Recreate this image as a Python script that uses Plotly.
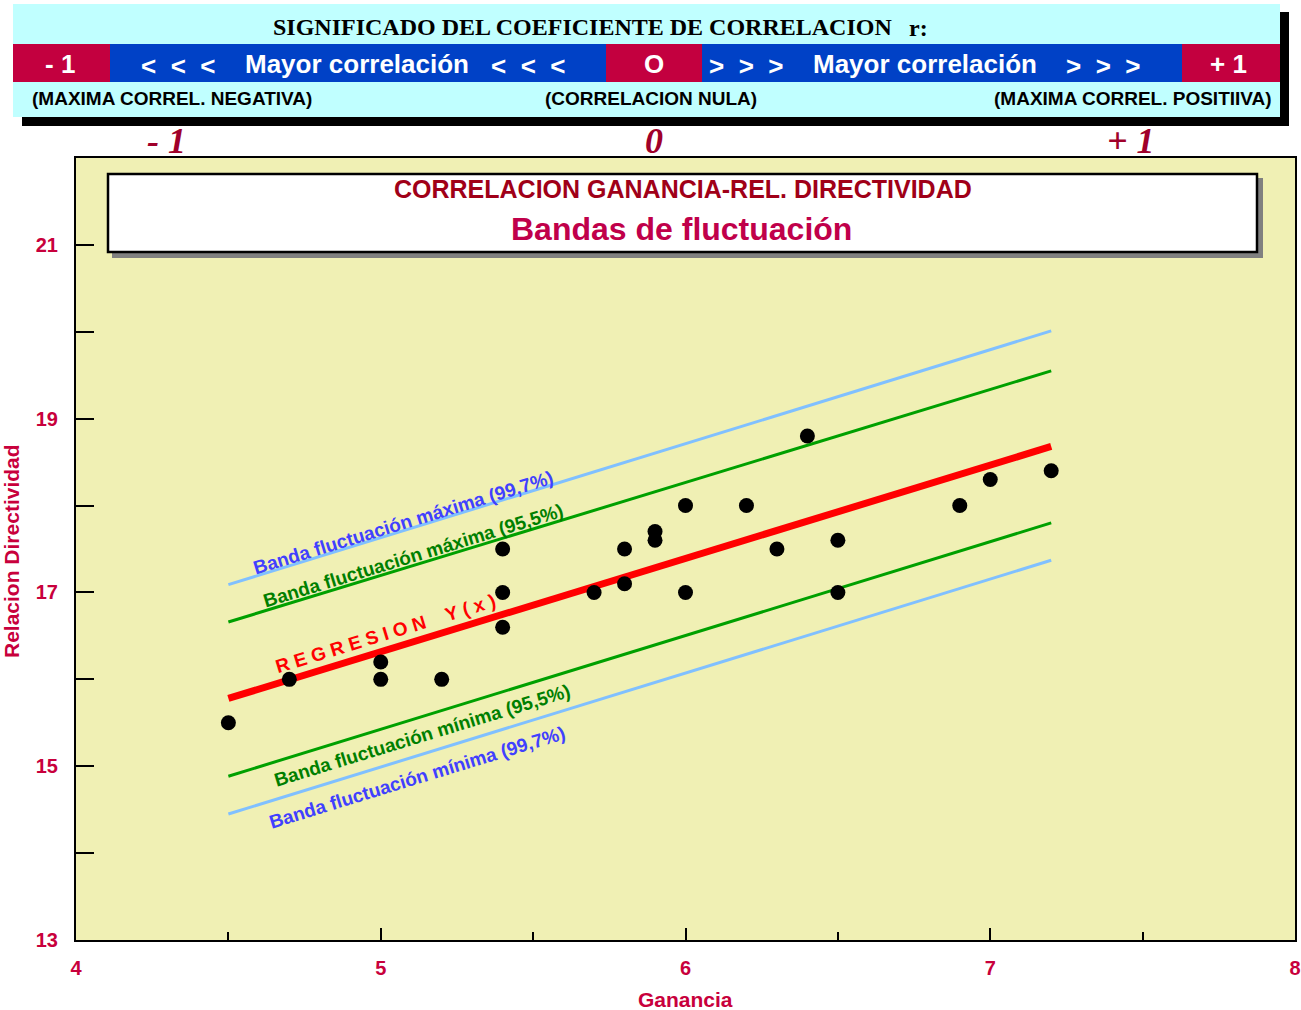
import plotly.graph_objects as go

# ---------------------------------------------------------------------------
# Data: gain vs. directivity ratio, regression line and fluctuation bands
# ---------------------------------------------------------------------------
ganancia = [4.5, 4.7, 5.0, 5.0, 5.2, 5.4, 5.4, 5.4, 5.7, 5.8, 5.8, 5.9,
            5.9, 6.0, 6.0, 6.2, 6.3, 6.4, 6.5, 6.5, 6.9, 7.0, 7.2]
directividad = [15.5, 16.0, 16.2, 16.0, 16.0, 17.5, 17.0, 16.6, 17.0, 17.5,
                17.1, 17.7, 17.6, 18.0, 17.0, 18.0, 17.5, 18.8, 17.6, 17.0,
                18.0, 18.3, 18.4]

# end points (x) of the regression line and the bands
banda_x = [4.5, 7.2]
regresion_y = [15.78, 18.68]
maxima_997 = [17.09, 20.01]
maxima_955 = [16.66, 19.55]
minima_955 = [14.885, 17.80]
minima_997 = [14.45, 17.37]

x_ticks = [4, 5, 6, 7, 8]
y_ticks = [13, 15, 17, 19, 21]

# ---------------------------------------------------------------------------
W, H = 1301, 1010
L, R, T, B = 76, 1295, 158, 940          # plot area in pixels

SANS = "Arial, Liberation Sans, sans-serif"
SERIF = "Times New Roman, Liberation Serif, serif"
CRIMSON = "#C8003C"
RED_CELL = "#C3003F"
BLUE_CELL = "#0041C6"
CYAN = "#C0FFFF"


def fx(p):
    return (p - L) / (R - L)


def fy(p):
    return (B - p) / (B - T)


def rect(x0, y0, x1, y1, fill, line_color=None, line_width=0):
    return dict(type="rect", xref="paper", yref="paper",
                x0=fx(x0), x1=fx(x1), y0=fy(y1), y1=fy(y0),
                fillcolor=fill, layer="above",
                line=dict(color=line_color or fill, width=line_width))


def label(text, x, y, size, color, family=SANS, bold=True, italic=False,
          angle=0, xanchor="center"):
    return dict(text=text, xref="paper", yref="paper", x=fx(x), y=fy(y),
                xanchor=xanchor, yanchor="middle", showarrow=False,
                textangle=angle,
                font=dict(family=family, size=size, color=color,
                          weight="bold" if bold else "normal",
                          style="italic" if italic else "normal"))


fig = go.Figure()

# fluctuation bands
fig.add_trace(go.Scatter(x=banda_x, y=maxima_997, mode="lines",
                         line=dict(color="#80C0FF", width=3), hoverinfo="skip"))
fig.add_trace(go.Scatter(x=banda_x, y=maxima_955, mode="lines",
                         line=dict(color="#00A000", width=3), hoverinfo="skip"))
fig.add_trace(go.Scatter(x=banda_x, y=minima_955, mode="lines",
                         line=dict(color="#00A000", width=3), hoverinfo="skip"))
fig.add_trace(go.Scatter(x=banda_x, y=minima_997, mode="lines",
                         line=dict(color="#80C0FF", width=3), hoverinfo="skip"))
# regression line
fig.add_trace(go.Scatter(x=banda_x, y=regresion_y, mode="lines",
                         line=dict(color="#FF0000", width=7), hoverinfo="skip"))
# measured points
fig.add_trace(go.Scatter(x=ganancia, y=directividad, mode="markers",
                         marker=dict(color="black", size=15, symbol="circle")))

shapes = []
# header panel with shadow
shapes.append(rect(22, 12, 1289, 126, "black"))
shapes.append(rect(13, 4, 1280, 117, CYAN))
shapes.append(rect(13, 44, 110, 82, RED_CELL))
shapes.append(rect(110, 44, 606, 82, BLUE_CELL))
shapes.append(rect(606, 44, 702, 82, RED_CELL))
shapes.append(rect(702, 44, 1182, 82, BLUE_CELL))
shapes.append(rect(1182, 44, 1280, 82, RED_CELL))
# title box inside the plot, with grey shadow
shapes.append(rect(112, 178, 1263, 258, "#808080"))
shapes.append(rect(108, 174, 1257, 252, "white", "black", 2.5))

NB = "\u00a0"
lt = f"<{NB}{NB}<{NB}{NB}<"
gt = f">{NB}{NB}>{NB}{NB}>"

annotations = [
    label("SIGNIFICADO DEL COEFICIENTE DE CORRELACION", 582, 27, 24, "black",
          family=SERIF),
    label("r:", 919, 28, 24, "black", family=SERIF),
    label(f"-{NB}1", 60, 64, 26, "white"),
    label(lt, 178, 66, 26, "white"),
    label("Mayor correlación", 357, 64, 26, "white"),
    label(lt, 528, 66, 26, "white"),
    label("O", 654, 64, 26, "white"),
    label(gt, 746, 66, 26, "white"),
    label("Mayor correlación", 925, 64, 26, "white"),
    label(gt, 1103, 66, 26, "white"),
    label(f"+{NB}1", 1228, 64, 26, "white"),
    label("(MAXIMA CORREL. NEGATIVA)", 172, 98, 19, "black"),
    label("(CORRELACION NULA)", 651, 98, 19, "black"),
    label("(MAXIMA CORREL. POSITIIVA)", 1133, 98, 19, "black"),
    label(f"-{NB}1", 166, 141, 36, "#A0002A", family=SERIF, italic=True),
    label("0", 654, 141, 36, "#A0002A", family=SERIF, italic=True),
    label(f"+{NB}1", 1131, 141, 36, "#A0002A", family=SERIF, italic=True),
    label("CORRELACION GANANCIA-REL. DIRECTIVIDAD", 683, 189, 25, "#A00018"),
    label("Bandas de fluctuación", 681, 229, 32, "#C0004A"),
    label("Ganancia", 685, 999, 21, CRIMSON),
    label("Relacion Directividad", 11, 551, 21, CRIMSON, angle=-90),
]

# labels on the bands (data coordinates)
band_labels = [
    ("Banda fluctuación máxima (99,7%)", 5.076, 17.805, "#4040FF"),
    ("Banda fluctuación máxima (95,5%)", 5.109, 17.425, "#007F00"),
    (f"R{NB}E{NB}G{NB}R{NB}E{NB}S{NB}I{NB}O{NB}N{NB}{NB}{NB}{NB}Y{NB}({NB}x{NB})",
     5.017, 16.529, "#FF0000"),
    ("Banda fluctuación mínima (95,5%)", 5.135, 15.356, "#007F00"),
    ("Banda fluctuación mínima (99,7%)", 5.119, 14.874, "#4040FF"),
]
for text, x, y, color in band_labels:
    annotations.append(dict(text=text, x=x, y=y, xref="x", yref="y",
                            showarrow=False, textangle=-17,
                            xanchor="center", yanchor="middle",
                            font=dict(family=SANS, size=19, color=color,
                                      weight="bold")))

fig.update_layout(
    width=W, height=H,
    margin=dict(l=L, r=W - R, t=T, b=H - B),
    paper_bgcolor="white",
    plot_bgcolor="#F0F0B4",
    showlegend=False,
    shapes=shapes,
    annotations=annotations,
    xaxis=dict(range=[4, 8], tickmode="array", tickvals=x_ticks,
               ticktext=[str(v) for v in x_ticks], automargin=False,
               ticks="inside", ticklen=12, tickwidth=2, tickcolor="black",
               minor=dict(tickvals=[4.5, 5.5, 6.5, 7.5], ticks="inside",
                          ticklen=8, tickwidth=2, tickcolor="black"),
               showgrid=False, zeroline=False,
               showline=True, linecolor="black", linewidth=2, mirror=True,
               ticklabelstandoff=9,
               tickfont=dict(family=SANS, size=20, color=CRIMSON,
                             weight="bold")),
    yaxis=dict(range=[13, 22], tickmode="array", tickvals=y_ticks,
               ticktext=[str(v) for v in y_ticks], automargin=False,
               ticks="inside", ticklen=18, tickwidth=2, tickcolor="black",
               minor=dict(tickvals=[14, 16, 18, 20], ticks="inside",
                          ticklen=18, tickwidth=2, tickcolor="black"),
               showgrid=False, zeroline=False,
               showline=True, linecolor="black", linewidth=2, mirror=True,
               ticklabelstandoff=12,
               tickfont=dict(family=SANS, size=20, color=CRIMSON,
                             weight="bold")),
)

fig.write_html("out.html")
